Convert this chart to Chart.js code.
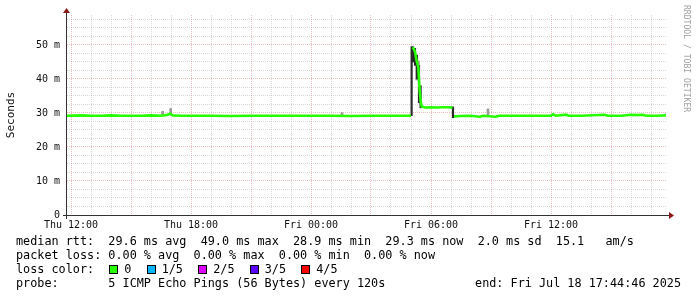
<!DOCTYPE html>
<html>
<head>
<meta charset="utf-8">
<script src="https://cdn.jsdelivr.net/npm/chart.js@4/dist/chart.umd.min.js"></script>
<style>
html,body{margin:0;padding:0;background:#fff;}
#wrap{position:relative;width:697px;height:297px;overflow:hidden;background:#fff;}
#c{position:absolute;left:0;top:0;}
.leg{position:absolute;left:16px;font-family:"DejaVu Sans Mono",monospace;font-size:11.8px;line-height:14px;white-space:pre;color:#000;}
.box{display:inline-block;width:7px;height:7px;border:1px solid #000;margin:0 6px 0 1px;vertical-align:-1px;}
#wm{position:absolute;left:692px;top:5px;transform:rotate(90deg);transform-origin:0 0;font-family:"DejaVu Sans Mono",monospace;font-size:8.1px;line-height:10px;white-space:pre;color:#a0a0a0;}
</style>
</head>
<body>
<div id="wrap">
<canvas id="c" width="697" height="297"></canvas>
<div id="wm">RRDTOOL / TOBI OETIKER</div>
<div class="leg" style="top:234px">median rtt:  29.6 ms avg  49.0 ms max  28.9 ms min  29.3 ms now  2.0 ms sd  15.1   am/s</div>
<div class="leg" style="top:248px">packet loss: 0.00 % avg  0.00 % max  0.00 % min  0.00 % now</div>
<div class="leg" id="lossline" style="top:262px"></div>
<div class="leg" style="top:276px">probe:       5 ICMP Echo Pings (56 Bytes) every 120s</div>
<div class="leg" style="top:276px;left:auto;right:16px">end: Fri Jul 18 17:44:46 2025</div>
</div>
<script>
// ---- data (hours relative to Thu 12:00, values in ms) ----
const medianTimes = [-0.2, 0.5, 1.0, 1.5, 2.0, 2.5, 3.0, 3.5, 4.0, 4.5, 4.8, 4.95, 5.1, 5.5, 6, 7, 8, 9, 10, 11, 12, 13, 14, 15, 16, 16.5, 17.0,
  17.03,
  17.075, 17.125, 17.2, 17.275, 17.365, 17.415, 17.48, 17.535, 17.7, 18.0, 18.3, 18.6, 18.9, 19.075,
  19.1,
  19.15, 19.5, 20.0, 20.45, 20.6, 21.25, 21.4, 22, 23, 24.0, 24.1, 24.25, 24.75, 24.9, 25.5, 26.7, 26.85, 27.5, 28.0, 28.3, 28.6, 28.75, 29.3, 29.75];
const medianValues = [29.2, 29.3, 29.2, 29.2, 29.3, 29.2, 29.2, 29.2, 29.3, 29.2, 29.4, 29.8, 29.3, 29.2, 29.2, 29.2, 29.1, 29.2, 29.2, 29.2, 29.2, 29.2, 29.1, 29.2, 29.2, 29.2, 29.2,
  null,
  49.3, 49.0, 48.0, 45.5, 43.5, 38.2, 33.5, 31.9, 31.6, 31.7, 31.6, 31.7, 31.7, 31.6,
  null,
  29.0, 29.1, 29.2, 28.9, 29.2, 28.9, 29.2, 29.2, 29.2, 29.2, 29.6, 29.2, 29.5, 29.2, 29.2, 29.5, 29.2, 29.2, 29.5, 29.4, 29.5, 29.2, 29.2, 29.3];

const lightSmokeTimes = [4.585, 4.985, 13.55, 20.85];
const lightSmokeLow   = [29.3, 29.3, 29.3, 29.3];
const lightSmokeHigh  = [30.5, 31.3, 30.1, 31.2];

const bandSmokeTimes = [17.33];
const bandSmokeLow   = [39.7];
const bandSmokeHigh  = [45.3];

const darkSmokeTimes = [17.03, 17.1, 17.2, 17.3, 17.4, 17.48, 19.1];
const darkSmokeLow   = [29.2, 45.0, 44.0, 40.0, 33.0, 31.5, 28.6];
const darkSmokeHigh  = [49.5, 49.5, 49.0, 47.0, 44.0, 38.0, 31.8];

const xGridHours = [0,1,2,3,4,5,6,7,8,9,10,11,12,13,14,15,16,17,18,19,20,21,22,23,24,25,26,27,28,29];
const xTickHours = [0, 6, 12, 18, 24];
const xTickLabels = ['Thu 12:00', 'Thu 18:00', 'Fri 00:00', 'Fri 06:00', 'Fri 12:00'];
const yGridValues = [0,2.5,5,7.5,10,12.5,15,17.5,20,22.5,25,27.5,30,32.5,35,37.5,40,42.5,45,47.5,50,52.5,55,57.5];
const yTickValues = [0, 10, 20, 30, 40, 50];
const yTickLabels = ['0', '10 m', '20 m', '30 m', '40 m', '50 m'];
const xRange = [-0.2, 29.8];
const yRange = [0, 58.82];

const lossLabels = ['0', '1/5', '2/5', '3/5', '4/5'];
const lossColors = ['#26ff00', '#00b4ff', '#dc00ff', '#5a00ff', '#ff0000'];

// ---- legend line with loss colours ----
(function(){
  const el = document.getElementById('lossline');
  let html = 'loss color:  ';
  lossLabels.forEach((l, i) => {
    html += '<span class="box" style="background:' + lossColors[i] + '"></span>' + l + (i < lossLabels.length - 1 ? '  ' : '');
  });
  el.innerHTML = html;
})();

const pts = (xs, ys) => xs.map((x, i) => ({x: x, y: ys[i]}));
const rng = (xs, lo, hi) => xs.map((x, i) => ({x: x, y: [lo[i], hi[i]]}));

const MINOR = 'rgba(150,150,150,0.36)';
const MAJOR = 'rgba(200,100,100,0.42)';

const axesPlugin = {
  id: 'rrdAxes',
  afterDatasetsDraw(chart) {
    const ctx = chart.ctx, a = chart.chartArea;
    const ax = a.left - 0.5, ay = a.bottom + 0.5;
    ctx.save();
    ctx.strokeStyle = '#333';
    ctx.lineWidth = 1;
    ctx.beginPath();
    ctx.moveTo(ax, a.top - 5); ctx.lineTo(ax, a.bottom + 4);
    ctx.moveTo(a.left - 4, ay); ctx.lineTo(a.right + 2, ay);
    ctx.stroke();
    ctx.fillStyle = '#8a1a1a';
    ctx.beginPath();
    ctx.moveTo(ax, a.top - 7); ctx.lineTo(ax - 3.5, a.top - 2); ctx.lineTo(ax + 3.5, a.top - 2); ctx.closePath();
    ctx.fill();
    ctx.beginPath();
    ctx.moveTo(a.right + 7, ay); ctx.lineTo(a.right + 2, ay - 3.5); ctx.lineTo(a.right + 2, ay + 3.5); ctx.closePath();
    ctx.fill();
    ctx.restore();
  }
};

new Chart(document.getElementById('c'), {
  type: 'line',
  data: {
    datasets: [
      { type: 'bar', data: rng(lightSmokeTimes, lightSmokeLow, lightSmokeHigh), backgroundColor: '#9a9a9a', barThickness: 2, grouped: false, order: 3, borderWidth: 0 },
      { type: 'bar', data: rng(bandSmokeTimes, bandSmokeLow, bandSmokeHigh), backgroundColor: '#a8a8a8', barThickness: 4, grouped: false, order: 3, borderWidth: 0 },
      { type: 'bar', data: rng(darkSmokeTimes, darkSmokeLow, darkSmokeHigh), backgroundColor: '#2a2a2a', barThickness: 1.5, grouped: false, order: 2, borderWidth: 0 },
      { type: 'line', data: pts(medianTimes, medianValues), borderColor: '#26ff00', borderWidth: 2.6, pointRadius: 0, tension: 0, spanGaps: false, fill: false, order: 1 }
    ]
  },
  options: {
    responsive: false,
    devicePixelRatio: 1,
    animation: false,
    events: [],
    layout: { padding: { left: 0, top: 15, right: 30, bottom: 62 } },
    plugins: { legend: { display: false }, tooltip: { enabled: false }, title: { display: false } },
    scales: {
      x: {
        type: 'linear', min: xRange[0], max: xRange[1], offset: false,
        afterBuildTicks: s => { s.ticks = xGridHours.map(v => ({ value: v })); },
        afterFit: s => { s.height = 20; },
        grid: { offset: false, drawTicks: false, lineWidth: 1,
          color: c => (c.tick && c.tick.value % 3 === 0) ? MAJOR : MINOR },
        border: { display: false, dash: [1, 1] },
        ticks: { autoSkip: false, maxRotation: 0, minRotation: 0, padding: 4, color: '#111',
          font: { family: 'DejaVu Sans Mono', size: 10 },
          callback: v => { const i = xTickHours.indexOf(v); return i >= 0 ? xTickLabels[i] : ''; } }
      },
      y: {
        type: 'linear', min: yRange[0], max: yRange[1],
        afterBuildTicks: s => { s.ticks = yGridValues.map(v => ({ value: v })); },
        afterFit: s => { s.width = 67; },
        grid: { drawTicks: false, lineWidth: 1,
          color: c => (c.tick && c.tick.value % 10 === 0) ? MAJOR : MINOR },
        border: { display: false, dash: [1, 1] },
        title: { display: true, text: 'Seconds', color: '#111', padding: { top: 5, bottom: 0 },
          font: { family: 'DejaVu Sans Mono', size: 11 } },
        ticks: { autoSkip: false, padding: 7, color: '#111',
          font: { family: 'DejaVu Sans Mono', size: 10 },
          callback: v => { const i = yTickValues.indexOf(v); return i >= 0 ? yTickLabels[i] : ''; } }
      }
    }
  },
  plugins: [axesPlugin]
});
</script>
</body>
</html>
